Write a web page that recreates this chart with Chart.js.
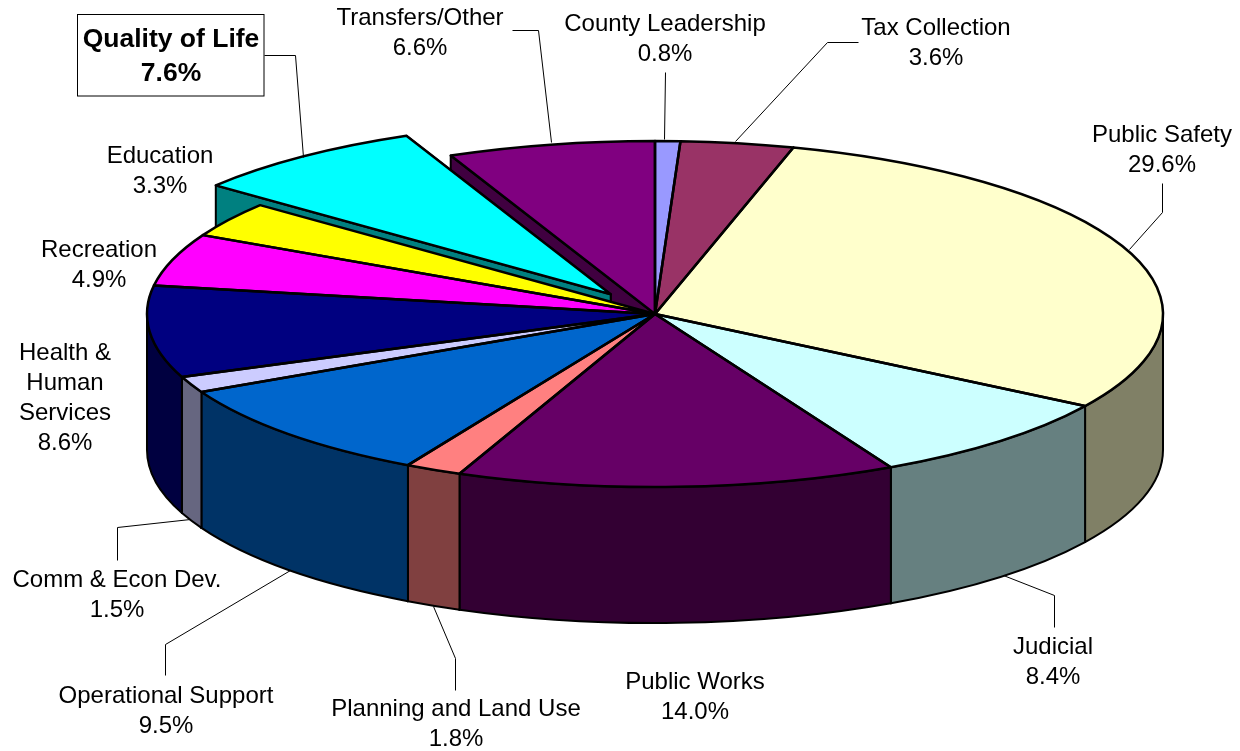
<!DOCTYPE html>
<html><head><meta charset="utf-8">
<style>html,body{margin:0;padding:0;background:#fff}canvas{display:block}</style>
<script src="https://cdn.jsdelivr.net/npm/chart.js@4"></script></head>
<body><canvas id="c" width="1240" height="751" style="width:1240px;height:751px"></canvas>
<script>
const categories = ["County Leadership","Tax Collection","Public Safety","Judicial","Public Works","Planning and Land Use","Operational Support","Comm & Econ Dev.","Health & Human Services","Recreation","Education","Quality of Life","Transfers/Other"];
const shares = [0.8,3.6,29.6,8.4,14.0,1.8,9.5,1.5,8.6,4.9,3.3,7.6,6.6];
const topColours = ["#9999FF","#993366","#FFFFCC","#CCFFFF","#660066","#FF8080","#0066CC","#CCCCFF","#000080","#FF00FF","#FFFF00","#00FFFF","#800080"];
const wallColours = ["#4D4D80","#4D1A33","#808066","#668080","#330033","#804040","#003366","#666680","#000040","#800080","#808000","#008080","#400040"];
const explode = [0,0,0,0,0,0,0,0,0,0,0,73,0];
// label layout: centre x, y of each text line
const labelLines = [["County Leadership"],["Tax Collection"],["Public Safety"],["Judicial"],["Public Works"],["Planning and Land Use"],["Operational Support"],["Comm & Econ Dev."],["Health &","Human","Services"],["Recreation"],["Education"],["Quality of Life"],["Transfers/Other"]];
const labelX = [665,936,1162,1053,695,456,166,117,65,99,160,171,420];
const labelY = [24,28,135,647,682,709,696,580,353,250,156,40,18];
const leaders = [
 [[665,72],[664,139]],
 [[858,42],[827,42],[735,141]],
 [[1162,183],[1162,212],[1129,249]],
 [[1054,627],[1054,595],[1003,575]],
 null,
 [[455,690],[455,658],[433,606]],
 [[165,675],[165,644],[290,570]],
 [[117,560],[117,527],[190,519]],
 null,null,null,
 [[264,55],[295,55],[303,157]],
 [[512,30],[538,30],[551,142]]
];
const RX=508, RY=173, DEPTH=136, LINE=30, FONT=24;

const pie3d = {
  id:'pie3d',
  beforeDatasetDraw(chart,args){
    const ctx=chart.ctx, arcs=args.meta.data, a0=arcs[0];
    const sx=RX/a0.outerRadius, sy=RY/a0.outerRadius, d=DEPTH/sy;
    ctx.save();
    ctx.translate(a0.x,a0.y); ctx.scale(sx,sy); ctx.translate(-a0.x,-a0.y);
    const shift=(el,i)=>{
      const mid=(el.startAngle+el.endAngle)/2, o=explode[i]/sx;
      return [Math.cos(mid)*o, Math.sin(mid)*o];
    };
    const strokeOnly=(w)=>{
      const m=ctx.getTransform(); ctx.setTransform(1,0,0,1,0,0);
      ctx.lineWidth=w; ctx.strokeStyle='#000'; ctx.lineJoin='round'; ctx.stroke();
      ctx.setTransform(m);
    };
    const strokeFill=(fill)=>{ ctx.fillStyle=fill; ctx.fill(); strokeOnly(2); };
    const order=arcs.map((_,i)=>i).sort((a,b)=>explode[a]-explode[b]);
    // cut faces first
    for(const i of order){
      const el=arcs[i], [dx,dy]=shift(el,i), cx=el.x+dx, cy=el.y+dy, r=el.outerRadius;
      for(const ang of [el.endAngle,el.startAngle]){
        const x=cx+Math.cos(ang)*r, y=cy+Math.sin(ang)*r;
        ctx.beginPath(); ctx.moveTo(cx,cy); ctx.lineTo(x,y); ctx.lineTo(x,y+d); ctx.lineTo(cx,cy+d); ctx.closePath();
        strokeFill(wallColours[i]);
      }
    }
    // front rim walls
    for(const i of order){
      const el=arcs[i], [dx,dy]=shift(el,i), cx=el.x+dx, cy=el.y+dy, r=el.outerRadius;
      const from=Math.max(el.startAngle,0), to=Math.min(el.endAngle,Math.PI);
      if(to>from){
        ctx.beginPath(); ctx.arc(cx,cy,r,from,to); ctx.arc(cx,cy+d,r,to,from,true); ctx.closePath();
        strokeFill(wallColours[i]);
      }
    }
    // top faces through the library's arc elements
    arcs.forEach((el,i)=>{
      const [dx,dy]=shift(el,i);
      ctx.save(); ctx.translate(dx,dy); el.draw(ctx); ctx.restore();
    });
    arcs.forEach((el,i)=>{
      const [dx,dy]=shift(el,i), cx=el.x+dx, cy=el.y+dy;
      ctx.beginPath(); ctx.moveTo(cx,cy); ctx.arc(cx,cy,el.outerRadius,el.startAngle,el.endAngle); ctx.closePath();
      strokeOnly(2.5);
    });
    ctx.restore();
    return false;
  },
  afterDraw(chart){
    const ctx=chart.ctx;
    ctx.save();
    ctx.strokeStyle='#000'; ctx.lineWidth=1;
    leaders.forEach(pts=>{
      if(!pts) return;
      ctx.beginPath(); pts.forEach((p,k)=>k?ctx.lineTo(p[0]+.5,p[1]+.5):ctx.moveTo(p[0]+.5,p[1]+.5)); ctx.stroke();
    });
    const qi=categories.indexOf("Quality of Life");
    ctx.fillStyle='#fff'; ctx.fillRect(78,15,186,81); ctx.strokeRect(77.5,14.5,186.5,81.5);
    ctx.textAlign='center'; ctx.textBaseline='middle'; ctx.fillStyle='#000';
    categories.forEach((c,i)=>{
      const lines=[...labelLines[i], shares[i].toFixed(1)+'%'];
      const bold=i===qi;
      ctx.font=(bold?'bold 26.5px':FONT+'px')+' "Liberation Sans", Arial, sans-serif';
      lines.forEach((t,k)=>ctx.fillText(t,labelX[i],labelY[i]+k*(bold?34:LINE)));
    });
    ctx.restore();
  }
};
new Chart(document.getElementById('c'),{
  type:'pie',
  data:{labels:categories,datasets:[{data:shares,backgroundColor:topColours,borderWidth:0,hoverOffset:0,clip:false}]},
  options:{responsive:false,devicePixelRatio:1,animation:false,events:[],rotation:0,
    layout:{padding:{left:70,right:0,top:0,bottom:123}},
    plugins:{legend:{display:false},tooltip:{enabled:false},title:{display:false}}},
  plugins:[pie3d]
});
</script></body></html>
